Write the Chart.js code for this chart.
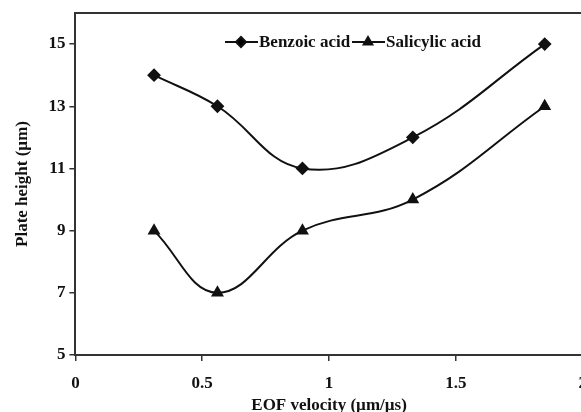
<!DOCTYPE html>
<html>
<head>
	<title>Plate height vs EOF velocity</title>
	<script src="https://cdn.jsdelivr.net/npm/chart.js@4.4.1/dist/chart.umd.min.js"></script>
	<style>
		body { margin: 0; overflow: hidden; background: #fff; }
		#wrap { width: 601px; height: 412px; }
	</style>
</head>
<body>
	<div id="wrap"><canvas id="chart1"></canvas></div>
<script>
	// data
	var velocity = [0.31, 0.56, 0.895, 1.33, 1.85];
	var benzoic = [14, 13, 11, 12, 15];
	var salicylic = [9, 7, 9, 10, 13];
	var xTicks = [0, 0.5, 1, 1.5, 2];
	var yTicks = [5, 7, 9, 11, 13, 15];

	var family = "'Liberation Serif', 'Times New Roman', serif";
	var font = { family: family, size: 17, weight: 'bold' };
	var tickFont = { family: family, size: 17, weight: 'bold', lineHeight: 1 };
	var ink = '#111';

	function points(ys) {
		return velocity.map(function (x, i) { return { x: x, y: ys[i] }; });
	}

	// legend drawn inside the plot: short line, marker, label
	var innerLegend = {
		id: 'innerLegend',
		afterDraw: function (chart) {
			var ctx = chart.ctx;
			var spots = [225, 352];
			ctx.save();
			ctx.font = 'bold 17px ' + family;
			ctx.textBaseline = 'middle';
			chart.data.datasets.forEach(function (ds, i) {
				var x = spots[i], y = 42;
				ctx.strokeStyle = ink;
				ctx.lineWidth = 2;
				ctx.beginPath();
				ctx.moveTo(x, y);
				ctx.lineTo(x + 33, y);
				ctx.stroke();
				Chart.helpers.drawPoint(ctx, {
					pointStyle: ds.pointStyle, radius: 5, borderWidth: 1
				}, x + 16, y);
				ctx.fillStyle = ink;
				ctx.fillText(ds.label, x + 34, y + 1);
			});
			ctx.restore();
		}
	};

	var ctx = document.getElementById('chart1');
	var chart = new Chart(ctx, {
		type: 'line',
		data: {
			datasets: [{
				label: 'Benzoic acid',
				data: points(benzoic),
				pointStyle: 'rectRot',
				pointRadius: 5.5,
				borderColor: ink,
				backgroundColor: ink,
				borderWidth: 2,
				tension: 0.4
			}, {
				label: 'Salicylic acid',
				data: points(salicylic),
				pointStyle: 'triangle',
				pointRadius: 5.5,
				borderColor: ink,
				backgroundColor: ink,
				borderWidth: 2,
				tension: 0.4
			}]
		},
		options: {
			responsive: true,
			maintainAspectRatio: false,
			animation: false,
			layout: { padding: { top: 13, right: 0, left: 12, bottom: 0 } },
			plugins: { legend: { display: false }, tooltip: { enabled: false } },
			scales: {
				x: {
					type: 'linear', min: 0, max: 2,
					afterBuildTicks: function (axis) { axis.ticks = xTicks.map(function (v) { return { value: v }; }); },
					afterFit: function (axis) { axis.height = 57; },
					grid: { drawOnChartArea: false, tickLength: 6, color: '#333', lineWidth: 1.5 },
					border: { color: '#333', width: 2 },
					ticks: { color: ink, font: tickFont, padding: 14, maxRotation: 0, callback: function (v) { return String(v); } },
					title: { display: true, text: 'EOF velocity (\u00b5m/\u00b5s)', color: ink, font: font, padding: { top: 0, bottom: -4 } }
				},
				x2: {
					type: 'linear', position: 'top', min: 0, max: 2,
					grid: { display: true, drawOnChartArea: false, drawTicks: false },
					border: { color: '#333', width: 2 },
					ticks: { display: false }
				},
				y: {
					min: 5, max: 16,
					afterBuildTicks: function (axis) { axis.ticks = yTicks.map(function (v) { return { value: v }; }); },
					grid: { drawOnChartArea: false, tickLength: 6, color: '#333', lineWidth: 1.5 },
					border: { color: '#333', width: 2 },
					ticks: { color: ink, font: tickFont, padding: 4 },
					title: { display: true, text: 'Plate height (\u00b5m)', color: ink, font: font, padding: { top: 0, bottom: 12 } }
				}
			}
		},
		plugins: [innerLegend]
	});
</script>
</body>
</html>
